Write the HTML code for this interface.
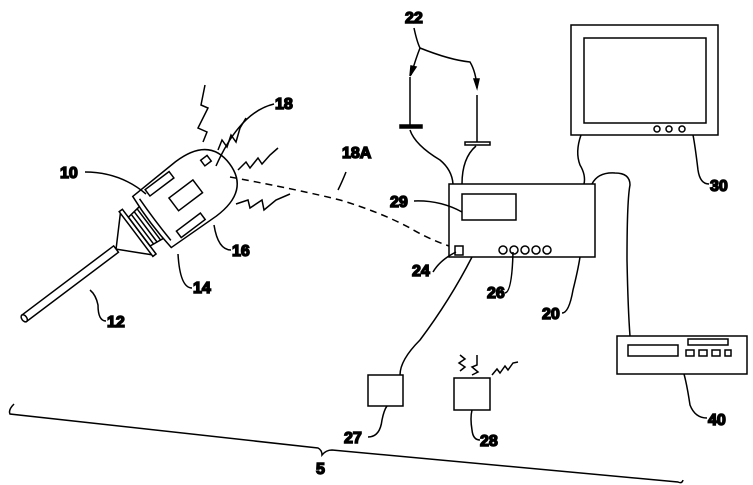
<!DOCTYPE html>
<html><head><meta charset="utf-8"><style>
html,body{margin:0;padding:0;background:#fff;}
svg{display:block}
text{font-family:"Liberation Sans",sans-serif;font-weight:bold;font-size:16px;fill:#000}
</style></head><body>
<svg width="753" height="485" viewBox="0 0 753 485" xmlns="http://www.w3.org/2000/svg" fill="none" stroke="#000" stroke-width="1.5">
<!-- device -->
<g transform="translate(152,222) rotate(-37)">
  <path d="M-160,-4 L-45,-4 L-45,4 L-160,4 Z" fill="#fff"/>
  <ellipse cx="-160" cy="0" rx="2.5" ry="4" fill="#fff"/>
  <path d="M-45,0 L-20,-26 M-45,0 L-20,26 M-20,-28 L-20,28 L-16,28 L-16,-28 Z"/>
  <path d="M-16,-18 L0,-20 L0,20 L-16,18 Z M-12,-18 L-12,18 M-8,-19 L-8,19 M-4,-19 L-4,19"/>
  <path d="M0,-32 L55,-34 Q97,-34 97,0 Q97,34 55,34 L0,32 Q-3,0 0,-32 Z" fill="#fff"/>
  <path d="M4,-26 Q3,0 4,26"/>
  <rect x="28" y="-9" width="30" height="16"/>
  <rect x="14" y="-30" width="30" height="8"/>
  <rect x="14" y="22" width="30" height="8"/>
  <rect x="76" y="-20" width="8" height="7"/>
</g>
<!-- lightning -->
<path d="M205,85 L201,105 L208,108 L198,128 L207,132 L203,142"/>
<path d="M218,150 L222,140 L227,147 L231,135 L236,142 L240,128 L246,118"/>
<path d="M238,170 L246,162 L250,168 L258,158 L262,164 L270,155 L278,148"/>
<path d="M236,204 L248,200 L250,208 L262,200 L264,210 L276,200 L290,194"/>
<!-- dashed link -->
<path d="M230,177 Q300,190 340,200 Q380,212 410,228 Q430,240 455,248" stroke-dasharray="7,5"/>
<path d="M346,172 Q342,182 338,190"/>
<text x="342" y="158">18A</text>
<!-- labels device -->
<text x="60" y="178">10</text><path d="M85,172 Q120,172 146,194"/>
<text x="275" y="109">18</text><path d="M274,104 Q240,112 216,166"/>
<text x="232" y="256">16</text><path d="M231,250 Q218,250 214,225"/>
<text x="193" y="293">14</text><path d="M192,288 Q180,288 178,254"/>
<text x="107" y="327">12</text><path d="M106,321 Q98,321 98,305 Q96,295 90,290"/>
<!-- antennas -->
<text x="405" y="23">22</text>
<path d="M414,28 Q417,42 420,48 Q416,58 411,75 M420,48 Q450,60 470,62 Q476,72 477,88"/>
<path d="M411,66 L416,67 L410,76 Z" fill="#000"/>
<path d="M474,79 L479,79 L477,88 Z" fill="#000"/>
<path d="M410,77 L410,126"/>
<rect x="400" y="125" width="22" height="3" fill="#000"/>
<path d="M477,95 L477,142"/>
<rect x="465" y="142" width="25" height="3"/>
<path d="M410,130 Q415,145 440,160 Q452,170 453,184"/>
<path d="M476,146 Q462,158 462,184"/>
<!-- box 20 -->
<rect x="449" y="184" width="146" height="73" fill="#fff"/>
<rect x="462" y="194" width="54" height="26"/>
<rect x="455" y="246" width="8" height="9"/>
<circle cx="503" cy="250" r="4"/><circle cx="514" cy="250" r="4"/><circle cx="525" cy="250" r="4"/><circle cx="536" cy="250" r="4"/><circle cx="547" cy="250" r="4"/>
<text x="390" y="207">29</text><path d="M414,201 Q440,200 462,212"/>
<text x="412" y="276">24</text><path d="M433,272 Q440,260 456,252"/>
<text x="487" y="298">26</text><path d="M505,293 Q512,292 513,252"/>
<text x="542" y="319">20</text><path d="M562,313 Q569,313 573,290 Q578,270 580,257"/>
<!-- monitor -->
<rect x="571" y="25" width="147" height="110" fill="#fff"/>
<rect x="584" y="38" width="122" height="85"/>
<circle cx="657" cy="129" r="3"/><circle cx="669" cy="129" r="3"/><circle cx="682" cy="129" r="3"/>
<path d="M581,135 Q575,152 580,165 Q586,175 584,184"/>
<text x="710" y="191">30</text><path d="M709,184 Q700,184 698,170 Q695,145 693,135"/>
<!-- cable to recorder -->
<path d="M592,184 Q598,172 615,173 Q630,173 630,185 Q627,200 627,260 Q628,310 630,336"/>
<!-- recorder -->
<rect x="617" y="336" width="130" height="38" fill="#fff"/>
<rect x="628" y="345" width="50" height="11"/>
<rect x="688" y="339" width="40" height="6"/>
<rect x="686" y="350" width="8" height="6"/><rect x="699" y="350" width="8" height="6"/><rect x="712" y="350" width="8" height="6"/><rect x="725" y="350" width="6" height="6"/>
<text x="708" y="425">40</text><path d="M707,418 Q695,418 690,405 Q687,385 684,374"/>
<!-- box 27 / 28 -->
<path d="M472,257 Q450,300 420,340 Q400,360 400,375"/>
<rect x="368" y="375" width="35" height="31"/>
<text x="344" y="443">27</text><path d="M368,437 Q380,437 382,420 Q384,410 387,406"/>
<rect x="454" y="378" width="36" height="32"/>
<path d="M460,355 L465,359 L459,363 L465,367 L460,371"/>
<path d="M477,355 L477,365 L472,367 L478,372 L472,375"/>
<path d="M492,375 L497,369 L500,373 L505,366 L508,370 L513,363 L518,362"/>
<text x="480" y="446">28</text><path d="M480,440 Q473,440 472,430 Q470,418 472,410"/>
<!-- brace -->
<path d="M14,404 Q8,410 10,414 L318,448 Q322,450 322,455 Q326,450 332,450 L678,482 Q682,484 683,480"/>
<text x="316" y="474">5</text>
</svg>
</body></html>
